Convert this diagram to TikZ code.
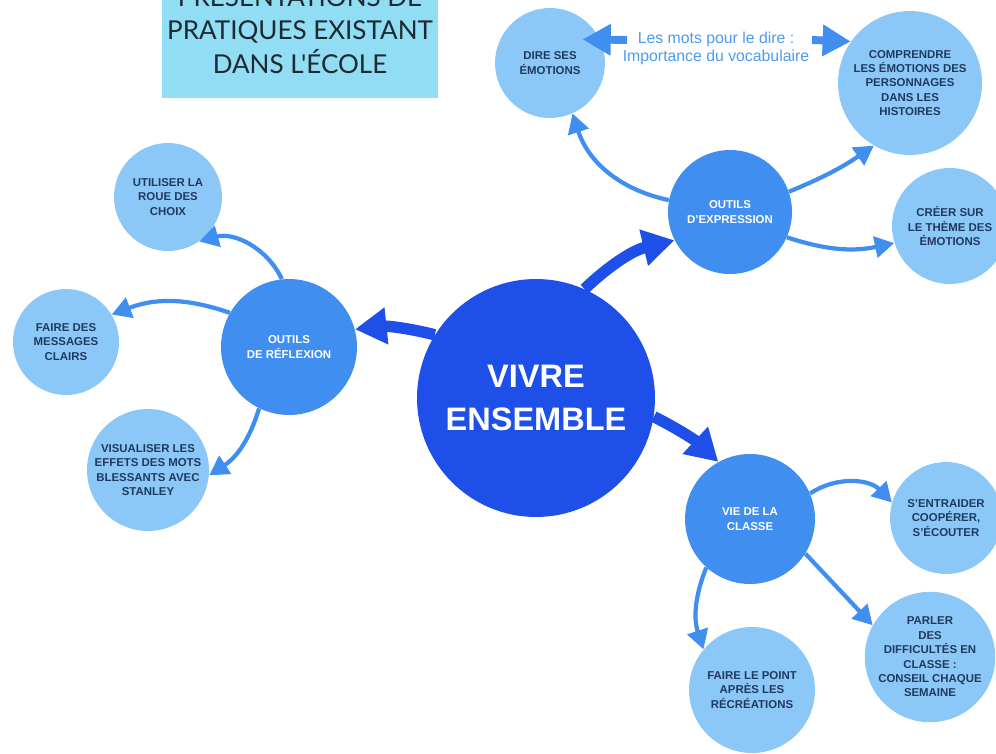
\documentclass[tikz,border=0pt]{standalone}
\usepackage{fontspec}
\setmainfont{Liberation Sans}
\newfontfamily\titlefont{Lato}
\usetikzlibrary{arrows.meta}

\definecolor{fonce}{HTML}{1E4FE8}
\definecolor{moyen}{HTML}{3F8EF0}
\definecolor{clair}{HTML}{8CC8F7}
\definecolor{titrebg}{HTML}{90DDF4}
\definecolor{texte}{HTML}{1F3A5F}
\definecolor{titretexte}{HTML}{1E2A33}
\definecolor{bleumots}{HTML}{4B9BF0}

\begin{document}
\begin{tikzpicture}[x=0.02cm,y=0.02cm,
	centre/.style={circle,fill=fonce,text=white,minimum size=4.76cm,inner sep=0pt,align=center,font=\bfseries\fontsize{18.5}{25}\selectfont},
	outil/.style={circle,fill=moyen,text=white,inner sep=0pt,align=center,font=\bfseries\fontsize{6.5}{8.2}\selectfont},
	feuille/.style={circle,fill=clair,text=texte,inner sep=0pt,align=center,font=\bfseries\fontsize{6.5}{8.2}\selectfont},
	titrebox/.style={fill=titrebg,text=titretexte,minimum width=5.52cm,minimum height=2.8cm,inner xsep=0pt,align=center,font=\titlefont\fontsize{14.8}{19.3}\selectfont},
	grosse/.style={-{Triangle[length=18pt,width=20pt]},line width=6.5pt,color=fonce},
	fine/.style={-{Triangle[length=11pt,width=12pt]},line width=2.4pt,color=moyen},
	motsfleche/.style={-{Triangle[length=16pt,width=17pt]},line width=4.5pt,color=moyen}]
	\useasboundingbox (0,0) rectangle (996,-753);
	\clip (0,0) rectangle (996,-753);

	\node(titre)[titrebox] at (300,-28) {PRÉSENTATIONS DE\\PRATIQUES EXISTANT\\DANS L'ÉCOLE};

	\node(vivre)[centre] at (536,-398) {VIVRE\\ENSEMBLE};
	\node(expr)[outil,minimum size=2.48cm] at (730,-212) {OUTILS\\D'EXPRESSION};
	\node(refl)[outil,minimum size=2.72cm] at (289,-347) {OUTILS\\DE RÉFLEXION};
	\node(vie)[outil,minimum size=2.6cm] at (750,-519) {VIE DE LA\\CLASSE};

	\node(dire)[feuille,minimum size=2.2cm] at (550,-63) {DIRE SES\\ÉMOTIONS};
	\node(compr)[feuille,minimum size=2.88cm] at (910,-83) {COMPRENDRE\\LES ÉMOTIONS DES\\PERSONNAGES\\DANS LES\\HISTOIRES};
	\node(creer)[feuille,minimum size=2.32cm] at (950,-226) {CRÉER SUR\\LE THÈME DES\\ÉMOTIONS};
	\node(roue)[feuille,minimum size=2.16cm] at (168,-197) {UTILISER LA\\ROUE DES\\CHOIX};
	\node(msgs)[feuille,minimum size=2.12cm] at (66,-342) {FAIRE DES\\MESSAGES\\CLAIRS};
	\node(stanley)[feuille,minimum size=2.44cm] at (148,-470) {VISUALISER LES\\EFFETS DES MOTS\\BLESSANTS AVEC\\STANLEY};
	\node(entraide)[feuille,minimum size=2.24cm] at (946,-518) {S'ENTRAIDER\\COOPÉRER,\\S'ÉCOUTER};
	\node(parler)[feuille,minimum size=2.6cm] at (930,-657) {PARLER\\DES\\DIFFICULTÉS EN\\CLASSE :\\CONSEIL CHAQUE\\SEMAINE};
	\node(point)[feuille,minimum size=2.52cm] at (752,-690) {FAIRE LE POINT\\APRÈS LES\\RÉCRÉATIONS};

	\node(mots)[text=bleumots,align=center,font=\fontsize{9}{10.2}\selectfont] at (716,-48) {Les mots pour le dire :\\Importance du vocabulaire};
	\coordinate(motsg) at (627,-40);
	\coordinate(motsd) at (812,-40);

	\path[grosse]   (vivre.66) edge[bend left=15] (expr.207)
	                (vivre.148) edge[bend right=10] (refl.15)
	                (vivre.351) edge[bend left=8] (vie.119);

	\path[fine]     (expr.169) edge[bend left=30] (dire.294)
	                (expr.19) edge[bend right=6] (compr.240)
	                (expr.336) edge[bend right=15] (creer.197)
	                (refl.96) edge[bend right=40] (roue.305)
	                (refl.150) edge[bend right=20] (msgs.31)
	                (refl.244) edge[bend left=20] (stanley.355)
	                (vie.23) edge[bend left=40] (entraide.164)
	                (vie.328) edge (parler.151)
	                (vie.228) edge[bend right=20] (point.140);

	\path[motsfleche] (motsg) edge[shorten >=-10pt] (dire.25)
	                (motsd) edge (compr.145);
\end{tikzpicture}
\end{document}
